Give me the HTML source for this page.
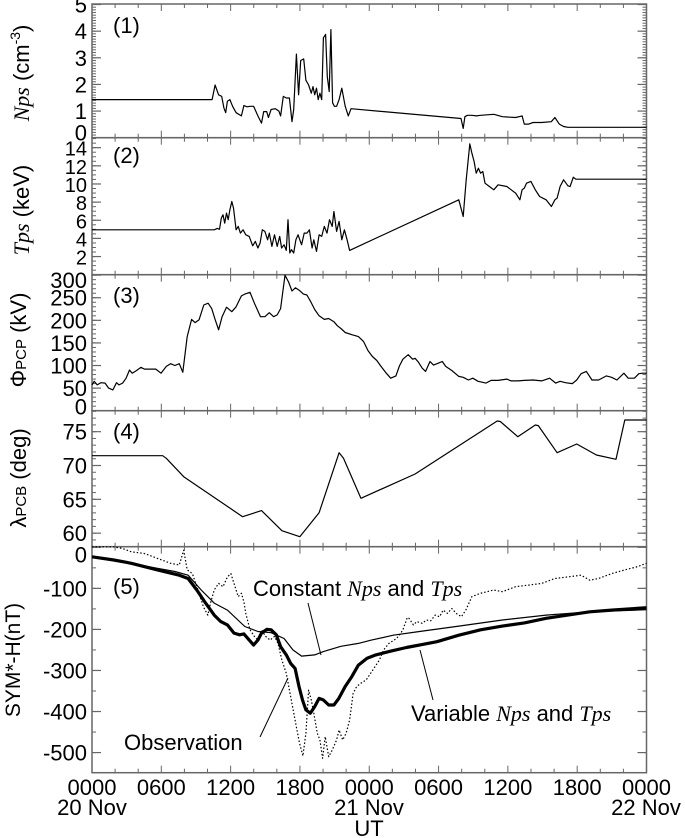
<!DOCTYPE html>
<html><head><meta charset="utf-8">
<style>
html,body{margin:0;padding:0;background:#fff;}
svg{display:block;}
text{font-family:"Liberation Sans",sans-serif;fill:#000;}
.ser{font-family:"Liberation Serif",serif;font-style:italic;}
</style></head>
<body>
<svg id="chart" width="685" height="838" viewBox="0 0 685 838" xmlns="http://www.w3.org/2000/svg">
<g id="axes"></g>
<g id="series"></g>
<g id="labels">
 <text x="113" y="33" font-size="22">(1)</text>
 <text x="113" y="163" font-size="22">(2)</text>
 <text x="113" y="303" font-size="22">(3)</text>
 <text x="113" y="439" font-size="22">(4)</text>
 <text x="113" y="594" font-size="22">(5)</text>
 <text transform="translate(29,73) rotate(-90)" text-anchor="middle" font-size="22"><tspan class="ser">Nps</tspan> (cm<tspan font-size="14" dy="-9">-3</tspan><tspan dy="9">)</tspan></text>
 <text transform="translate(29,210) rotate(-90)" text-anchor="middle" font-size="22"><tspan class="ser">Tps</tspan> (keV)</text>
 <text transform="translate(26,340) rotate(-90)" text-anchor="middle" font-size="22">Φ<tspan font-size="15">PCP</tspan> (kV)</text>
 <text transform="translate(26,478) rotate(-90)" text-anchor="middle" font-size="22">λ<tspan font-size="15">PCB</tspan> (deg)</text>
 <text transform="translate(20,660) rotate(-90)" text-anchor="middle" font-size="21">SYM*-H(nT)</text>
 <text x="369" y="836" text-anchor="middle" font-size="22">UT</text>
 <text x="92" y="815" text-anchor="middle" font-size="22">20 Nov</text>
 <text x="369" y="815" text-anchor="middle" font-size="22">21 Nov</text>
 <text x="646" y="815" text-anchor="middle" font-size="22">22 Nov</text>
 <text x="253" y="596" font-size="22">Constant <tspan class="ser">Nps</tspan> and <tspan class="ser">Tps</tspan></text>
 <text x="411" y="721" font-size="22">Variable <tspan class="ser">Nps</tspan> and <tspan class="ser">Tps</tspan></text>
 <text x="124" y="750" font-size="22">Observation</text>
 <line x1="308" y1="603" x2="321" y2="655" stroke="#000" stroke-width="1"/>
 <line x1="433" y1="700" x2="420" y2="650" stroke="#000" stroke-width="1"/>
 <line x1="260" y1="737" x2="288" y2="678" stroke="#000" stroke-width="1"/>
</g>
</svg>
<script>
// ---- data (hours since 0000 UT 20 Nov) ----
const npsT=[0,10.4,10.66,10.96,11.23,11.42,11.57,11.72,11.94,12.17,12.47,12.93,13.15,13.42,13.68,13.99,14.36,14.67,14.86,15.12,15.27,15.5,15.88,16.18,16.33,16.56,16.82,17.09,17.31,17.46,17.69,17.88,18.07,18.33,18.52,18.75,18.98,19.13,19.28,19.43,19.58,19.73,19.88,20.03,20.22,20.37,20.53,20.68,20.83,20.98,21.17,21.39,21.62,21.92,22.19,22.42,31.94,32.13,32.28,32.5,32.89,33.27,33.64,34.78,35.53,36.67,37.23,37.42,37.8,38.18,38.93,39.76,40.07,40.45,40.82,41.2,41.58,48];
const npsV=[1.43,1.43,1.98,1.61,1.55,1.12,0.94,1.37,1.43,1.18,0.94,0.82,1.21,1.16,1.18,1.18,0.82,0.55,0.98,0.98,0.76,1.06,1.09,1.0,0.82,1.55,1.49,1.49,0.6,1.06,3.14,1.61,2.9,2.96,2.16,1.98,1.67,1.92,1.61,1.86,1.43,1.67,1.43,3.75,3.88,2.29,1.73,4.06,1.31,1.18,1.18,1.43,1.86,1.18,0.82,1.09,0.72,0.35,0.79,0.84,0.84,0.82,0.84,0.88,0.79,0.76,0.82,0.51,0.51,0.57,0.57,0.6,0.76,0.51,0.42,0.39,0.39,0.39];
const tpsT=[0,10.58,10.85,11.04,11.19,11.34,11.49,11.64,11.79,11.94,12.10,12.25,12.47,12.66,12.85,13.08,13.31,13.61,13.91,14.14,14.36,14.55,14.74,14.97,15.20,15.35,15.57,15.80,16.03,16.25,16.41,16.63,16.82,16.97,17.12,17.27,17.46,17.65,17.84,17.99,18.14,18.37,18.60,18.82,19.05,19.20,19.43,19.66,19.88,20.11,20.34,20.56,20.79,20.94,21.17,21.39,21.62,21.85,22.08,22.30,31.75,32.13,32.39,32.70,32.89,33.08,33.26,33.45,33.64,33.83,34.02,34.40,34.78,35.15,35.91,36.29,36.67,37.04,37.23,37.42,37.61,37.99,38.37,38.75,39.31,39.77,40.07,40.26,40.52,40.82,41.20,41.39,41.66,41.88,48];
const tpsV=[4.95,4.95,5.1,5.0,6.24,6.6,5.69,6.79,6.06,7.16,8.07,7.34,4.95,5.32,4.59,4.95,4.4,4.22,3.19,3.67,2.94,3.49,4.95,4.77,3.85,4.59,3.12,4.4,3.12,4.22,2.94,3.3,2.68,6.06,2.39,2.75,2.39,3.85,4.4,3.85,3.3,4.59,4.59,4.95,2.94,3.85,2.57,4.4,4.22,5.32,4.59,6.06,5.32,6.97,4.77,5.87,3.85,4.95,3.85,2.68,8.26,6.42,10.46,14.42,13.39,12.48,11.19,11.74,11.19,11.38,10.09,9.72,9.36,9.91,9.72,9.36,8.99,8.26,9.36,9.54,10.09,10.28,9.36,8.62,8.26,7.52,8.26,8.44,9.72,10.46,9.8,9.72,10.75,10.53,10.53];
const phiT=[0,0.19,0.45,0.76,1.13,1.44,1.81,2.12,2.34,2.65,2.95,3.25,3.48,3.86,4.23,4.54,5.10,5.52,5.97,6.43,6.80,7.18,7.56,7.86,8.24,8.62,8.92,9.26,9.68,10.05,10.36,10.66,10.96,11.26,11.64,12.10,12.47,12.93,13.23,13.68,14.06,14.59,14.97,15.35,15.72,16.03,16.33,16.71,17.01,17.31,17.61,17.92,18.30,18.60,18.90,19.28,19.66,20.11,20.49,20.94,21.24,21.55,21.92,22.53,23.06,23.51,23.89,24.27,24.65,25.02,25.48,25.86,26.31,26.61,26.91,27.37,27.75,27.97,28.27,28.58,28.88,29.26,29.56,29.94,30.32,30.62,31.15,31.75,32.13,32.58,32.96,33.42,34.10,34.55,35.15,35.91,36.29,36.89,37.42,38.18,38.93,39.61,40.14,40.52,40.98,41.58,41.96,42.34,42.79,43.28,43.85,44.53,44.98,45.44,46.04,46.42,46.95,47.33,47.70,48];
const phiV=[57,65,57,62,61,50,46,62,57,61,72,90,83,89,96,92,92,92,83,98,104,100,104,85,164,202,195,201,234,238,226,202,179,208,229,219,230,254,258,262,238,208,208,217,208,212,226,300,285,265,272,267,258,256,243,224,210,202,204,197,188,182,173,168,164,153,133,120,111,98,83,72,77,99,114,124,114,116,107,94,87,109,101,105,109,98,89,76,74,68,72,65,61,67,67,70,66,66,67,68,66,72,61,65,62,60,68,82,87,68,68,77,74,68,83,72,72,82,83,83];
const lamT=[0,6.12,6.43,7.94,13.04,14.67,16.44,17.99,19.66,21.39,21.77,23.28,27.97,35.08,35.34,36.86,38.37,38.63,40.26,41.96,43.66,45.36,46.12,48];
const lamV=[71.45,71.45,71.06,68.35,62.44,63.33,60.37,59.48,63.03,71.9,71.06,65.15,68.74,76.58,76.5,74.26,75.99,75.9,71.9,73.18,71.55,70.91,76.72,76.72];
const obsT=[0,1.89,2.65,3.40,4.54,5.67,6.80,7.56,7.94,8.24,8.69,9.26,9.64,10.02,10.28,10.58,10.96,11.34,11.72,12.02,12.29,12.66,12.93,13.15,13.31,13.68,14.06,14.36,14.67,15.04,15.42,15.80,16.10,16.44,16.82,17.20,17.58,17.96,18.26,18.52,18.75,18.98,19.20,19.50,19.73,19.96,20.19,20.49,20.79,21.17,21.39,21.70,22.00,22.30,22.60,22.91,23.28,23.74,24.12,24.49,24.87,25.25,25.70,26.16,26.54,26.91,27.29,27.44,27.82,28.12,28.58,28.95,29.33,29.71,30.09,30.39,30.77,31.15,31.53,31.98,32.36,32.89,33.64,34.78,35.53,36.67,37.80,38.93,40.07,41.20,42.34,43.09,43.85,44.98,46.12,47.25,48];
const obsV=[1,1,-3,-11,-15,-27,-39,-43,-7,-55,-64,-112,-145,-165,-133,-104,-88,-96,-72,-64,-88,-120,-112,-133,-161,-201,-217,-226,-201,-217,-226,-217,-234,-275,-307,-364,-421,-477,-508,-453,-348,-372,-404,-453,-469,-514,-461,-510,-494,-469,-445,-469,-453,-421,-356,-339,-331,-323,-307,-291,-275,-250,-234,-226,-217,-201,-171,-173,-189,-181,-185,-177,-179,-165,-169,-153,-161,-149,-161,-169,-153,-120,-112,-104,-108,-96,-92,-88,-76,-72,-68,-80,-76,-64,-55,-47,-39];
const conT=[0,1.89,3.4,5.67,7.18,8.32,9.45,10.58,11.72,13.23,14.36,15.50,16.63,17.39,18.14,19.28,20.03,21.55,23.06,24.19,26.08,28.35,31.75,35.53,39.31,43.09,48];
const conV=[-23,-31,-39,-51,-59,-68,-104,-136,-153,-193,-205,-208,-222,-250,-265,-262,-254,-241,-234,-226,-214,-205,-192,-177,-165,-157,-152];
const varT=[0,1.89,3.4,5.67,7.56,8.32,9.07,9.83,10.58,11.15,11.72,12.29,12.78,13.15,13.61,13.99,14.36,14.67,15.12,15.50,15.95,16.33,16.82,17.20,17.58,17.92,18.22,18.52,18.90,19.28,19.66,20.03,20.49,20.94,21.36,21.92,22.49,23.06,23.81,24.57,25.70,27.22,28.73,29.86,31.75,33.64,35.53,37.42,39.31,41.20,43.09,44.98,48];
const varV=[-23,-31,-39,-55,-68,-76,-104,-136,-165,-181,-189,-209,-213,-211,-226,-238,-226,-209,-200,-201,-213,-242,-262,-283,-295,-339,-372,-396,-404,-388,-368,-372,-384,-384,-368,-339,-315,-287,-270,-262,-254,-244,-236,-230,-214,-201,-192,-184,-173,-165,-157,-153,-147];
const xTickLabels=["0000","0600","1200","1800","0000","0600","1200","1800","0000"];
const p1Ticks=[0,1,2,3,4,5];
const p2Ticks=[2,4,6,8,10,12,14];
const p3Ticks=[0,50,100,150,200,250,300];
const p4Ticks=[60,65,70,75];
const p5Ticks=[-500,-400,-300,-200,-100,0];

const NS="http://www.w3.org/2000/svg";
const X0=92,X1=646.5;
function xs(h){return X0+h/48*(X1-X0);}
const panels=[
 {top:4,bot:137.7,min:0,max:5.02,ticks:p1Ticks,minor:0.1,name:"nps"},
 {top:137.7,bot:274.7,min:0,max:15.1,ticks:p2Ticks,minor:0.5,name:"tps"},
 {top:274.7,bot:410.7,min:0,max:301,ticks:p3Ticks,minor:10,name:"phi"},
 {top:410.7,bot:546.7,min:58.0,max:78.1,ticks:p4Ticks,minor:1,name:"lambda"},
 {top:546.7,bot:772.7,min:-549,max:1.5,ticks:p5Ticks,minor:50,name:"symh"}
];
function ys(p,v){return p.bot-(v-p.min)/(p.max-p.min)*(p.bot-p.top);}
const axes=document.getElementById('axes');
const ser=document.getElementById('series');
function mk(tag,attrs,parent){const e=document.createElementNS(NS,tag);for(const k in attrs)e.setAttribute(k,attrs[k]);parent.appendChild(e);return e;}
const AX="#666";
panels.forEach((p,i)=>{
 const r=mk('rect',{x:X0,y:p.top,width:X1-X0,height:p.bot-p.top,fill:'none',stroke:AX,'stroke-width':1.5},axes);
 
 
 // x ticks
 for(let h=0;h<=48;h+=2){
  const major=h%6===0, L=major?7:4, x=xs(h);
  mk('line',{x1:x,y1:p.bot,x2:x,y2:p.bot-L,stroke:AX,'stroke-width':1},axes);
  mk('line',{x1:x,y1:p.top,x2:x,y2:p.top+L,stroke:AX,'stroke-width':1},axes);
 }
 // y minor ticks
 const n=Math.round((p.max-p.min)/p.minor)+1;
 const start=Math.ceil(p.min/p.minor)*p.minor;
 for(let k=0;k<n;k++){
  const v=start+k*p.minor; if(v>p.max) break;
  const y=ys(p,v);
  mk('line',{x1:X0,y1:y,x2:X0+4,y2:y,stroke:AX,'stroke-width':1},axes);
  mk('line',{x1:X1,y1:y,x2:X1-4,y2:y,stroke:AX,'stroke-width':1},axes);
 }
 p.ticks.forEach(v=>{
  const y=ys(p,v);
  mk('line',{x1:X0,y1:y,x2:X0+9,y2:y,stroke:AX,'stroke-width':1.2},axes);
  mk('line',{x1:X1,y1:y,x2:X1-9,y2:y,stroke:AX,'stroke-width':1.2},axes);
  let ty=y+8;
  if(i===4&&v===0) ty=y+15;
  if(i===0&&v===0) ty=y+3;
  if(i===2&&v===0) ty=y+4;
  if(i===2&&v===300) ty=y+13;
  const t=mk('text',{x:X0-5,y:ty,'text-anchor':'end','font-size':(i===1?20:22)},axes);
  
  
  t.textContent=(v<0?'-'+(-v):String(v));
 });
});
xTickLabels.forEach((s,k)=>{
 const t=mk('text',{x:xs(k*6),y:795,'text-anchor':'middle','font-size':22},axes);
 
 
 t.textContent=s;
});
function line(T,V,p,name,w,dash){
 const d=T.map((h,k)=>(k?'L':'M')+xs(h).toFixed(1)+' '+ys(p,V[k]).toFixed(1)).join(' ');
 const a={d:d,fill:'none',stroke:'#000','stroke-width':w,'stroke-linejoin':'round'};
 if(dash)a['stroke-dasharray']=dash;
 const e=mk('path',a,ser);
 
 
}
line(npsT,npsV,panels[0],'nps-line',1.2);
line(tpsT,tpsV,panels[1],'tps-line',1.2);
line(phiT,phiV,panels[2],'phi-pcp-line',1.2);
line(lamT,lamV,panels[3],'lambda-pcb-line',1.2);
line(obsT,obsV,panels[4],'observation-line',1.2,'1.5 2');
line(conT,conV,panels[4],'constant-nps-tps-line',1.2);
line(varT,varV,panels[4],'variable-nps-tps-line',3.2);
</script>
</body></html>
